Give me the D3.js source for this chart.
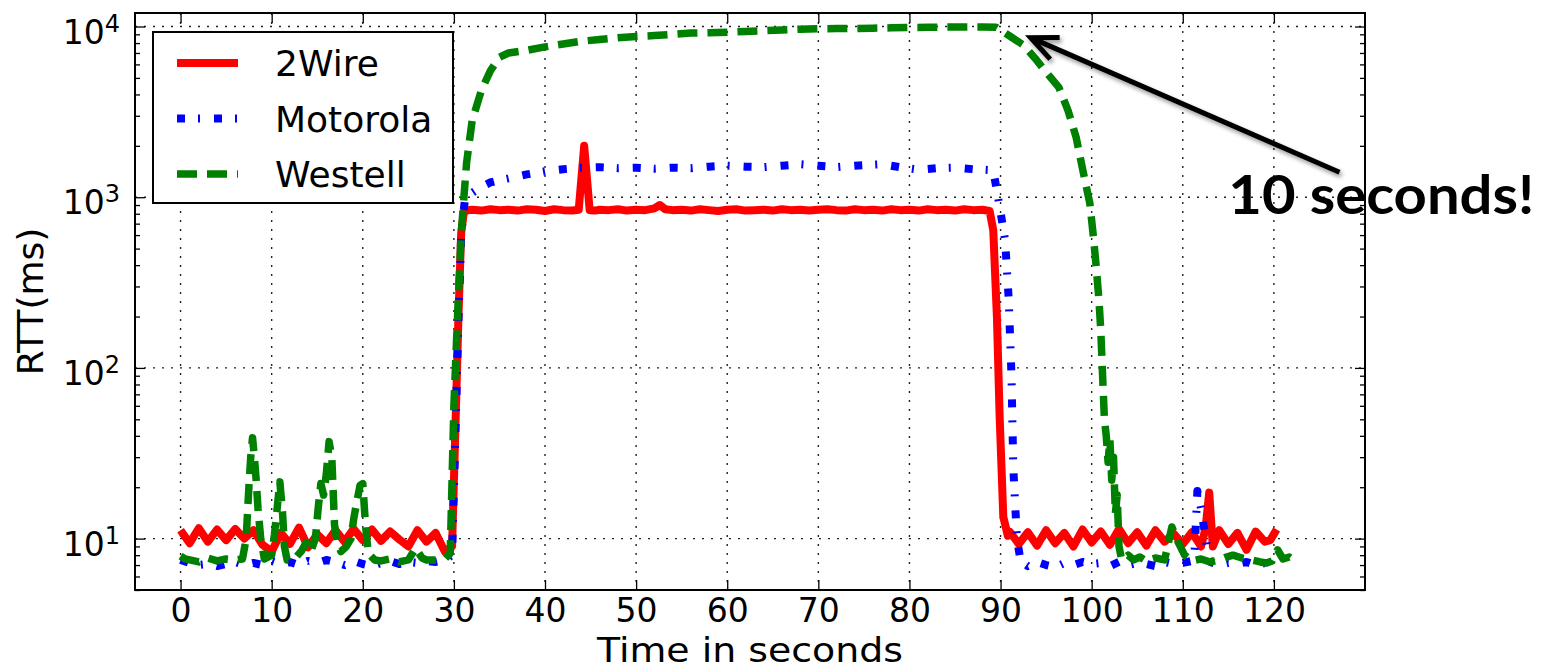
<!DOCTYPE html>
<html>
<head>
<meta charset="utf-8">
<script src="https://cdn.jsdelivr.net/npm/d3@7"></script>
<style>
  html, body { margin: 0; padding: 0; background: #fff; }
  svg { display: block; font-family: "DejaVu Sans", sans-serif; }
</style>
</head>
<body>
<svg id="chart"></svg>
<script>
// ---- data ----
const xTicks = [0, 10, 20, 30, 40, 50, 60, 70, 80, 90, 100, 110, 120];
const yTicks = [10, 100, 1000, 10000];
const seriesNames = ["2Wire", "Motorola", "Westell"];
const seriesColors = ["#ff0000", "#0000ff", "#008000"];

// 2Wire
const wireTime = [
  0, 1, 2, 3, 4, 5, 6, 7, 8, 9, 10, 11, 12, 13, 14, 15, 16, 17, 18, 19, 20,
  21, 22, 23, 24, 25, 26, 27, 28, 29, 29.8, 30.1, 30.5, 30.8, 31.1, 31.6,
  32, 33, 34, 35, 36, 37, 38, 39, 40, 41, 42, 43, 43.7, 44.0, 44.3, 44.6, 44.9,
  45.5, 46, 47, 48, 49, 50, 51, 52, 52.6, 53.2, 54, 55, 56, 57, 58, 59, 60,
  61, 62, 63, 64, 65, 66, 67, 68, 69, 70, 71, 72, 73, 74, 75, 76, 77, 78, 79,
  80, 81, 82, 83, 84, 85, 86, 87, 88, 88.8, 89.2, 89.6, 89.9, 90.3, 90.8,
  91, 92, 93, 94, 95, 96, 97, 98, 99, 100, 101, 102, 103, 104, 105, 106, 107,
  108, 109, 110, 111, 112, 112.5, 112.9, 113.3, 114, 115, 116, 117, 118, 119,
  119.6, 120.3
];
const wireRtt = [
  11.2, 9.4, 11.5, 9.6, 11.3, 9.8, 11.4, 10.0, 11.2, 9.2, 8.4, 10.8, 9.3, 11.6,
  8.9, 10.6, 9.4, 11.2, 9.6, 11.4, 9.8, 11.3, 9.7, 11.0, 9.9, 9.0, 11.2, 9.6,
  10.8, 8.4, 9.0, 33, 200, 620, 820, 840,
  845, 835, 850, 840, 845, 835, 850, 845, 830, 850, 840, 835, 845, 1300, 2000,
  1300, 840, 835, 845, 840, 850, 835, 845, 840, 860, 900, 850, 840, 845, 835,
  850, 840, 830, 845, 850, 835, 840, 845, 835, 850, 840, 845, 835, 845, 850,
  840, 835, 850, 840, 845, 835, 850, 840, 845, 835, 850, 840, 845, 835, 850,
  840, 845, 830, 640, 200, 52, 13.4, 10.4,
  11.0, 9.3, 10.9, 9.1, 11.2, 9.4, 10.8, 9.0, 11.3, 9.5, 11.0, 9.2, 11.4, 9.4,
  10.9, 9.1, 11.2, 9.6, 10.7, 9.3, 10.9, 9.0, 11.5, 18.6, 9.0, 11.2, 9.3,
  10.8, 8.6, 11.0, 9.6, 9.8, 11.3
];

// Motorola
const motoTime = [
  0, 1, 2, 3, 4, 5, 6, 7, 8, 9, 10, 11, 12, 13, 14, 15, 16, 17, 18, 19, 20,
  21, 22, 23, 24, 25, 26, 27, 28, 29, 29.8, 30.1, 30.5, 30.8, 31.2, 32, 33,
  34, 35, 36, 38, 40, 42, 44, 46, 48, 50, 52, 54, 56, 58, 60, 62, 64, 66, 68,
  70, 72, 74, 76, 77, 79, 81, 83, 85, 87, 89.2, 89.9, 90.5, 90.9, 91.2, 91.4,
  91.6, 91.8, 92.2, 93, 94, 95, 96, 97, 98, 99, 100, 101, 102, 103, 104, 105,
  106, 107, 108, 109, 110, 111, 111.3, 111.6, 112, 112.4, 112.7, 113, 114,
  115, 116, 117, 118, 119, 120
];
const motoRtt = [
  7.5, 7.2, 7.0, 7.1, 6.9, 7.1, 7.3, 7.0, 7.2, 7.0, 7.4, 7.1, 7.3, 7.0, 7.4,
  7.2, 7.5, 7.3, 7.0, 7.4, 7.1, 6.9, 7.2, 7.4, 7.1, 7.3, 7.2, 7.4, 7.3, 7.5,
  8, 30, 190, 600, 960, 1060, 1150, 1220, 1260, 1290, 1360, 1420, 1460, 1490,
  1500, 1480, 1490, 1470, 1490, 1480, 1510, 1530, 1510, 1500, 1530, 1560,
  1530, 1500, 1530, 1550, 1560, 1500, 1450, 1480, 1490, 1460, 1440, 880, 560,
  250, 90, 26, 16, 10, 7.4, 6.9, 7.3, 7.0, 6.8, 7.2, 7.0, 7.3, 7.1, 7.2, 6.9,
  7.3, 7.0, 7.2, 7.1, 6.9, 7.3, 7.1, 7.2, 7.4, 8.5, 19, 15, 11, 8.6, 7.3, 7.0,
  7.2, 7.1, 7.3, 7.0, 7.2, 7.1
];

// Westell
const westTime = [
  0, 0.5, 1, 2, 3, 4, 5, 6, 6.8, 7.2, 7.5, 7.7, 7.9, 8.1, 8.3, 8.5, 8.8, 9.2,
  10, 10.3, 10.6, 10.9, 11.2, 11.4, 11.7, 12.5, 13.3, 13.8, 14.3, 14.8, 15.1,
  15.4, 15.7, 16.0, 16.3, 16.6, 16.9, 17.2, 17.6, 18.2, 18.7, 19.0, 19.3,
  19.7, 20.0, 20.3, 20.6, 21.3, 22, 23, 24, 25, 25.8, 26.5, 27, 28, 29, 29.6,
  30, 30.4, 30.8, 31.1, 31.4, 32, 33, 34, 35, 36, 38, 40, 42, 44, 46, 48, 50,
  52, 54, 56, 58, 60, 62, 64, 66, 68, 70, 72, 74, 76, 78, 80, 82, 84, 86, 88,
  89.5, 91, 92.5, 93.8, 95, 96.4, 97.4, 98.3, 99.1, 99.8, 100.2, 100.5, 100.8,
  101, 101.2, 101.4, 101.6, 101.8, 102, 102.2, 102.4, 102.6, 102.8, 103,
  103.3, 104, 104.6, 105.3, 106, 107, 108, 108.8, 109.5, 110.2, 111, 112, 113,
  114, 114.8, 115.5, 116.5, 117.5, 118.5, 119.2, 119.8, 120.4, 121, 121.7,
  122.5
];
const westRtt = [
  7.9, 7.6, 7.5, 7.3, 7.7, 7.4, 7.6, 7.5, 7.6, 10, 20, 30, 39, 30, 22, 15, 10,
  7.6, 8.0, 10.5, 15, 21.5, 14, 9, 7.5, 7.6, 8.5, 9.5, 8.4, 10, 15, 21, 18, 24,
  37, 30, 12, 9.5, 8.4, 9.0, 10, 13, 16, 20.5, 21, 12, 8.2, 7.5, 7.4, 7.6, 7.3,
  7.5, 8.8, 7.7, 7.5, 7.5, 7.6, 8.2, 60, 200, 600, 1000, 1600, 2800, 4200,
  5500, 6600, 7000, 7250, 7600, 7900, 8200, 8400, 8600, 8750, 8850, 9000, 9150,
  9200, 9250, 9350, 9450, 9550, 9650, 9700, 9720, 9740, 9780, 9820, 9860, 9900,
  9920, 9940, 9950, 9900, 8800, 7800, 6500, 5400, 4400, 3230, 2240, 1380, 920,
  580, 390, 250, 166, 90, 50, 40, 28, 38, 22, 30, 14, 18, 9, 7.5, 8.0, 7.5,
  7.8, 7.4, 7.7, 7.5, 11.7, 9.5, 8.0, 7.4, 7.6, 7.3, 7.5, 7.8, 8.0, 7.7, 7.5,
  7.3, 7.2, 7.4, 8.6, 7.6, 7.8, 7.3
];

// annotation: arrow tip, arrow tail and text anchor in data units
const noteText = "10 seconds!";
const noteTip = [93.3, 8600];
const noteTail = [127.2, 1400];
const noteAt = [115, 800];

// ---- layout ----
const dims = { width: 1545, height: 671, left: 135, top: 13, right: 1365, bottom: 590 };

const svg = d3.select("#chart")
  .attr("width", dims.width)
  .attr("height", dims.height);

svg.append("rect")
  .attr("width", dims.width).attr("height", dims.height).attr("fill", "#fff");

const defs = svg.append("defs");
defs.append("clipPath").attr("id", "plot-clip")
  .append("rect")
  .attr("x", dims.left).attr("y", dims.top)
  .attr("width", dims.right - dims.left).attr("height", dims.bottom - dims.top);

const shadow = defs.append("filter").attr("id", "shadow")
  .attr("x", "-20%").attr("y", "-20%").attr("width", "140%").attr("height", "160%");
shadow.append("feDropShadow")
  .attr("dx", 2).attr("dy", 3).attr("stdDeviation", 2)
  .attr("flood-color", "#000").attr("flood-opacity", 0.4);

const xScale = d3.scaleLinear().domain([-5, 130]).range([dims.left, dims.right]);
const yScale = d3.scaleLog().domain([5, 12000]).range([dims.bottom, dims.top]);

// ---- grid ----
const grid = svg.append("g")
  .attr("stroke", "#222")
  .attr("stroke-width", 1.4)
  .attr("stroke-dasharray", "2,7");

grid.selectAll(".gx").data(xTicks).enter().append("line")
  .attr("x1", (d) => xScale(d)).attr("x2", (d) => xScale(d))
  .attr("y1", dims.top).attr("y2", dims.bottom);

grid.selectAll(".gy").data(yTicks).enter().append("line")
  .attr("x1", dims.left).attr("x2", dims.right)
  .attr("y1", (d) => yScale(d)).attr("y2", (d) => yScale(d));

// ---- series ----
const lineGen = d3.line()
  .x((d) => xScale(d[0]))
  .y((d) => yScale(d[1]));

const seriesList = [
  { pts: d3.zip(wireTime, wireRtt), dash: null, width: 8 },
  { pts: d3.zip(motoTime, motoRtt), dash: "8,13,2,14", width: 8 },
  { pts: d3.zip(westTime, westRtt), dash: "20,10", width: 7.5 },
];

const linesG = svg.append("g").attr("clip-path", "url(#plot-clip)");
seriesList.forEach((s, i) => {
  linesG.append("path")
    .datum(s.pts)
    .attr("d", lineGen)
    .attr("fill", "none")
    .attr("stroke", seriesColors[i])
    .attr("stroke-width", s.width)
    .attr("stroke-linejoin", "round")
    .attr("stroke-dasharray", s.dash);
});

// ---- axes (ticks inside the frame) ----
const xAxisBottom = svg.append("g")
  .attr("transform", `translate(0,${dims.bottom})`)
  .call(d3.axisBottom(xScale).tickValues(xTicks).tickSize(-10).tickPadding(9));

svg.append("g")
  .attr("transform", `translate(0,${dims.top})`)
  .call(d3.axisTop(xScale).tickValues(xTicks).tickSize(-10).tickFormat(""));

const yAxisLeft = svg.append("g")
  .attr("transform", `translate(${dims.left},0)`)
  .call(d3.axisLeft(yScale).tickValues(yTicks).tickSize(-10).tickPadding(15));

svg.append("g")
  .attr("transform", `translate(${dims.right},0)`)
  .call(d3.axisRight(yScale).tickValues(yTicks).tickSize(-10).tickFormat(""));

// minor log ticks
const minorTicks = [];
[1, 10, 100, 1000].forEach((base) => {
  for (let k = 2; k <= 9; k++) {
    const v = k * base;
    if (v >= 5 && v <= 12000) minorTicks.push(v);
  }
});
svg.append("g")
  .attr("transform", `translate(${dims.left},0)`)
  .call(d3.axisLeft(yScale).tickValues(minorTicks).tickSize(-5).tickFormat(""));
svg.append("g")
  .attr("transform", `translate(${dims.right},0)`)
  .call(d3.axisRight(yScale).tickValues(minorTicks).tickSize(-5).tickFormat(""));

svg.selectAll(".domain").remove();
svg.selectAll(".tick line").attr("stroke", "#000").attr("stroke-width", 1.3);

xAxisBottom.selectAll(".tick text")
  .attr("font-family", "DejaVu Sans")
  .attr("font-size", 33)
  .attr("fill", "#000");

// y labels as 10 with superscript exponent
yAxisLeft.selectAll(".tick text")
  .attr("font-family", "DejaVu Sans")
  .attr("font-size", 33)
  .attr("fill", "#000")
  .attr("dy", null)
  .attr("y", 16.5)
  .text(null)
  .each(function (d) {
    const t = d3.select(this);
    t.append("tspan").text("10");
    t.append("tspan")
      .attr("dy", -12)
      .attr("font-size", 24)
      .text(Math.round(Math.log10(d)));
  });

// frame
svg.append("rect")
  .attr("x", dims.left).attr("y", dims.top)
  .attr("width", dims.right - dims.left).attr("height", dims.bottom - dims.top)
  .attr("fill", "none")
  .attr("stroke", "#000")
  .attr("stroke-width", 2);

// axis titles
svg.append("text")
  .attr("x", (dims.left + dims.right) / 2)
  .attr("y", 662)
  .attr("text-anchor", "middle")
  .attr("font-size", 33.5)
  .attr("textLength", 306)
  .attr("lengthAdjust", "spacingAndGlyphs")
  .attr("fill", "#000")
  .text("Time in seconds");

svg.append("text")
  .attr("transform", `translate(43,${(dims.top + dims.bottom) / 2}) rotate(-90)`)
  .attr("text-anchor", "middle")
  .attr("font-size", 36)
  .attr("fill", "#000")
  .text("RTT(ms)");

// ---- legend ----
const legend = svg.append("g");
legend.append("rect")
  .attr("x", 153).attr("y", 32)
  .attr("width", 300).attr("height", 171)
  .attr("fill", "#fff")
  .attr("stroke", "#000")
  .attr("stroke-width", 2);

seriesNames.forEach((name, i) => {
  const ly = 63 + i * 55.5;
  legend.append("line")
    .attr("x1", 177).attr("x2", 238)
    .attr("y1", ly).attr("y2", ly)
    .attr("stroke", seriesColors[i])
    .attr("stroke-width", seriesList[i].width)
    .attr("stroke-dasharray", seriesList[i].dash);
  legend.append("text")
    .attr("x", 275)
    .attr("y", ly + 13)
    .attr("font-size", 36)
    .attr("fill", "#000")
    .text(name);
});

// ---- annotation ----
const tip = [xScale(noteTip[0]), yScale(noteTip[1])];
const tail = [xScale(noteTail[0]), yScale(noteTail[1])];
const ang = Math.atan2(tail[1] - tip[1], tail[0] - tip[0]);
const wing = 29;
const spread = (24 * Math.PI) / 180;
const w1 = [tip[0] + wing * Math.cos(ang + spread), tip[1] + wing * Math.sin(ang + spread)];
const w2 = [tip[0] + wing * Math.cos(ang - spread), tip[1] + wing * Math.sin(ang - spread)];

const arrowG = svg.append("g").attr("filter", "url(#shadow)");
arrowG.append("line")
  .attr("x1", tail[0]).attr("y1", tail[1])
  .attr("x2", tip[0] + 3 * Math.cos(ang)).attr("y2", tip[1] + 3 * Math.sin(ang))
  .attr("stroke", "#000")
  .attr("stroke-width", 5);
arrowG.append("path")
  .attr("d", `M${w1[0]},${w1[1]}L${tip[0]},${tip[1]}L${w2[0]},${w2[1]}`)
  .attr("fill", "none")
  .attr("stroke", "#000")
  .attr("stroke-width", 5)
  .attr("stroke-linejoin", "miter");

svg.append("text")
  .attr("x", xScale(noteAt[0]))
  .attr("y", yScale(noteAt[1]))
  .attr("font-family", "Lato, 'Open Sans', sans-serif")
  .attr("font-weight", "bold")
  .attr("font-size", 54)
  .attr("textLength", 306)
  .attr("lengthAdjust", "spacingAndGlyphs")
  .attr("fill", "#000")
  .text(noteText);
</script>
</body>
</html>
